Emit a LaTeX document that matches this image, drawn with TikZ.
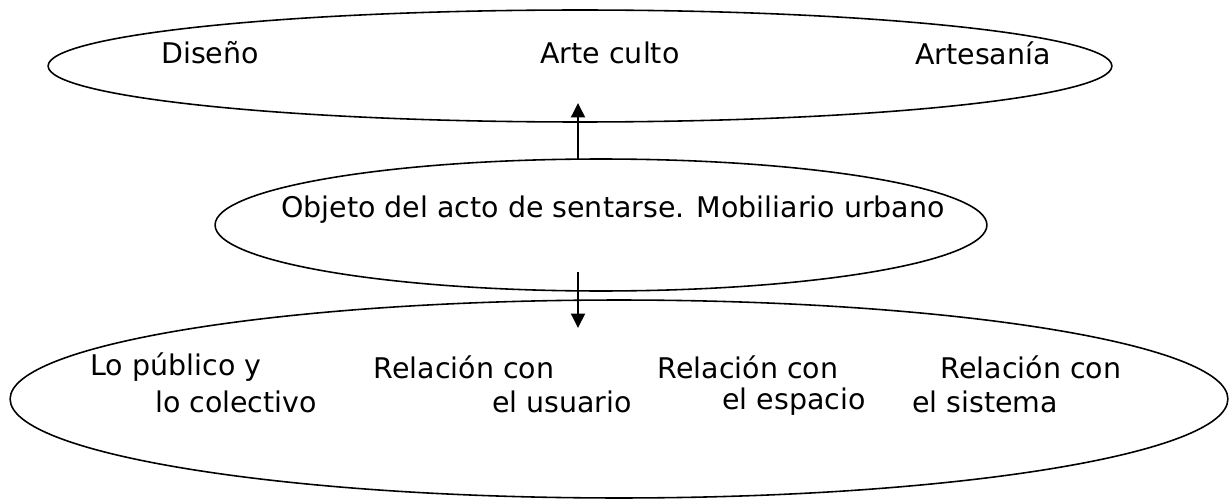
\documentclass[tikz,border=0pt]{standalone}
\usepackage{fontspec}
\setmainfont{DejaVu Sans}
\usetikzlibrary{shapes.geometric,arrows.meta}

\tikzset{
    oval/.style={ellipse, draw, line width=0.9pt, inner sep=0pt, outer sep=0pt},
    lbl/.style={inner sep=0pt, font=\fontsize{16.2}{19}\selectfont},
    arr/.style={-{Triangle[length=2.9mm, width=2.8mm]}, line width=1.1pt}
}

\begin{document}
\begin{tikzpicture}[x=0.02cm, y=-0.02cm]
            \useasboundingbox (0,0) rectangle (1231,500);

            \node (e1) at (580,66) [oval, minimum width=21.28cm, minimum height=2.24cm] {};
            \node (e2) at (601,225) [oval, minimum width=15.44cm, minimum height=2.64cm] {};
            \node (e3) at (619,399) [oval, minimum width=24.36cm, minimum height=3.96cm] {};

            \node (t1) at (210,53) [lbl] {Diseño};
            \node (t2) at (610,53) [lbl] {Arte culto};
            \node (t3) at (983,53) [lbl] {Artesanía};

            \node (t4) at (613,210) [lbl] {Objeto del acto de sentarse. Mobiliario urbano};

            \node (b1) at (176,367) [lbl] {Lo público y};
            \node (b2) at (236,402) [lbl] {lo colectivo};
            \node (b3) at (464,367) [lbl] {Relación con};
            \node (b4) at (562,402) [lbl] {el usuario};
            \node (b5) at (748,367) [lbl] {Relación con};
            \node (b6) at (794,402) [lbl] {el espacio};
            \node (b7) at (1031,367) [lbl] {Relación con};
            \node (b8) at (985,402) [lbl] {el sistema};

            \coordinate (u1) at (578,160);
            \coordinate (u2) at (578,103);
            \coordinate (d1) at (578,272);
            \coordinate (d2) at (578,328);
            \draw[arr] (u1) -- (u2);
            \draw[arr] (d1) -- (d2);

        \end{tikzpicture}
\end{document}
